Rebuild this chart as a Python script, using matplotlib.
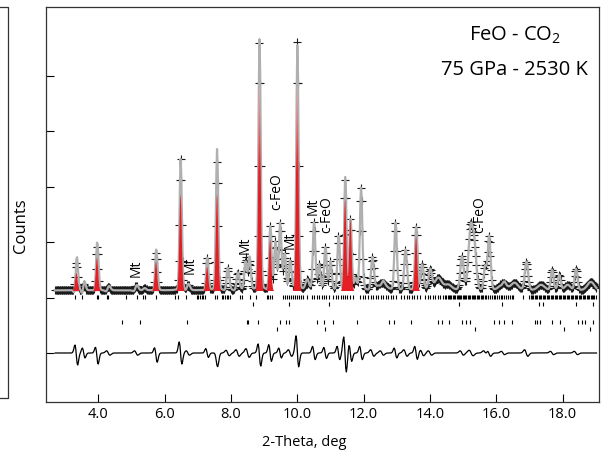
import numpy as np
import matplotlib.pyplot as plt
from matplotlib.lines import Line2D
from matplotlib.path import Path
from matplotlib.colors import LinearSegmentedColormap

plt.rcParams['font.family'] = ['Open Sans', 'DejaVu Sans']
plt.rcParams['mathtext.fontset'] = 'custom'
plt.rcParams['mathtext.rm'] = 'Open Sans'

# scan settings (2-theta, deg)
tt_start, tt_stop, tt_step = 2.70, 19.04, 0.02
background = 1130.

peak_pos = [3.34, 3.56, 3.96, 4.30, 5.14, 5.40, 5.74, 6.48, 6.70, 7.28, 7.58, 7.90, 8.20,
            8.44, 8.56, 8.86, 9.18, 9.34, 9.48, 9.62, 9.78, 10.00, 10.30, 10.50, 10.66,
            10.84, 11.00, 11.24, 11.44, 11.60, 11.76, 11.92, 12.26, 12.55, 12.96, 13.26,
            13.58, 13.76, 14.00, 14.25, 14.55, 14.96, 15.22, 15.34, 15.66, 15.78, 16.20,
            16.55, 16.90, 17.35, 17.68, 17.90, 18.15, 18.40, 18.85]
peak_height = [494, 115, 783, 60, 80, 40, 675, 2372, 97, 585, 2318, 404, 314,
               585, 513, 4466, 1144, 856, 1199, 639, 513, 4466, 188, 1217, 458,
               765, 513, 964, 1975, 1271, 200, 1848, 585, 134, 1217, 729,
               1144, 458, 368, 223, 97, 603, 1100, 700, 423, 964, 134,
               134, 513, 97, 368, 278, 97, 386, 152]
peak_fwhm = [0.08, 0.08, 0.08, 0.10, 0.10, 0.10, 0.08, 0.08, 0.10, 0.08, 0.08, 0.09, 0.10,
             0.09, 0.09, 0.08, 0.08, 0.09, 0.09, 0.09, 0.09, 0.08, 0.12, 0.09, 0.09,
             0.09, 0.09, 0.09, 0.08, 0.08, 0.09, 0.09, 0.10, 0.30, 0.09, 0.10,
             0.09, 0.10, 0.12, 0.25, 0.25, 0.12, 0.15, 0.14, 0.10, 0.10, 0.25,
             0.25, 0.12, 0.25, 0.10, 0.10, 0.20, 0.10, 0.25]

# difference curve features: position, antisymmetric amp, symmetric amp, width
res_pos = [3.34, 3.56, 3.96, 4.30, 5.14, 5.74, 6.48, 6.70, 7.28, 7.58, 7.90, 8.20, 8.50,
           8.86, 9.18, 9.48, 9.78, 10.00, 10.50, 10.84, 11.24, 11.44, 11.60, 11.92, 12.26,
           12.55, 12.96, 13.26, 13.58, 13.76, 14.00, 14.96, 15.24, 15.66, 15.78, 16.20,
           16.90, 17.68, 18.40]
res_asym = [-180, -90, -150, -40, -40, -130, -200, -40, -80, -60, -50, -60, -80,
            -200, -150, -90, -60, -280, -120, -100, -120, -320, -150, -120, -60,
            -40, -90, -60, -120, -50, -40, -40, -50, -40, -60, -30,
            -60, -30, -30]
res_sym = [-60, 0, -80, 0, 0, -60, 0, 0, 0, -230, 0, 0, 0,
           -60, 0, 0, 0, 50, 0, 0, 0, -50, 0, 0, 0,
           0, 0, 0, 0, 0, 0, 0, 0, 0, 0, 0,
           0, 0, 0]
res_w = [0.04, 0.04, 0.04, 0.05, 0.05, 0.04, 0.04, 0.05, 0.04, 0.04, 0.05, 0.05, 0.05,
         0.04, 0.04, 0.04, 0.05, 0.04, 0.04, 0.04, 0.04, 0.04, 0.04, 0.04, 0.05,
         0.05, 0.04, 0.05, 0.04, 0.05, 0.05, 0.05, 0.06, 0.05, 0.05, 0.05,
         0.05, 0.05, 0.05]

# phase shown in red: position, top (counts)
red_pos = [3.34, 3.96, 5.74, 6.48, 7.28, 7.58, 8.86, 9.18, 10.00, 11.44, 11.60, 13.58]
red_top = [1444, 1715, 1643, 2852, 1552, 2852, 4837, 2040, 4837, 2762, 2400, 2094]
red_base = 1119.

# reflection markers (four phases)
hkl_1a = [3.30, 3.50, 3.95, 4.00, 4.25, 4.30, 4.84, 5.18, 5.36, 5.41, 5.74, 6.31, 6.41, 6.63,
          6.97, 7.02, 7.07, 7.12, 7.17, 7.22, 7.52, 7.57, 7.72, 7.77, 7.82, 7.87, 7.92, 7.97,
          8.27, 8.32, 8.57, 8.75, 9.08, 9.13, 9.18, 9.23, 9.58, 9.64, 9.70, 9.76, 9.82, 9.88,
          9.94, 10.00, 10.06, 10.12, 10.18, 10.28, 10.43, 10.50, 10.58, 10.66, 10.73, 10.80,
          10.88, 10.96, 11.09, 11.17, 11.24, 11.31, 11.37, 11.44, 11.49, 11.59, 11.69, 11.89,
          11.97, 12.04, 12.14, 12.21, 12.29, 12.37, 12.44, 12.51, 12.59, 12.67, 12.74, 12.81,
          12.89, 12.97, 13.14, 13.21, 13.30, 13.38, 13.46, 13.53, 13.60, 13.70, 13.85, 13.93,
          14.00, 14.08, 14.15, 14.23, 14.31, 14.38, 14.45, 14.49, 14.53, 14.57, 14.60, 14.64,
          14.68, 14.72, 14.76, 14.80, 14.83, 14.87, 14.91, 14.95, 14.99, 15.03, 15.06, 15.10,
          15.14, 15.18, 15.22, 15.26, 15.29, 15.33, 15.37, 15.41, 15.45, 15.49, 15.53, 15.57,
          15.61, 15.65, 15.69, 15.76, 15.81, 15.86, 15.92, 15.97, 16.02, 16.08, 16.13, 16.18,
          16.24, 16.30, 16.35, 16.41, 16.46, 16.51, 16.81, 17.00, 17.04, 17.08, 17.12, 17.16,
          17.20, 17.24, 17.28, 17.32, 17.36, 17.40, 17.44, 17.48, 17.52, 17.56, 17.60, 17.64,
          17.68, 17.72, 17.76, 17.80, 17.84, 17.88, 17.92, 17.96, 18.00, 18.04, 18.08, 18.12,
          18.16, 18.20, 18.24, 18.28, 18.32, 18.36, 18.40, 18.44, 18.48, 18.52, 18.56, 18.60,
          18.64, 18.68, 18.72, 18.76, 18.80, 18.84, 18.88, 18.92, 18.96, 19.00]
hkl_1b = [8.67, 9.74, 10.97, 14.88, 16.18, 17.29, 17.42, 18.40, 18.92]
hkl_2a = [4.70, 5.26, 6.66, 8.47, 8.52, 8.80, 9.47, 9.67, 9.74, 10.59, 10.80, 11.08, 11.81,
          12.75, 12.93, 13.43, 14.23, 14.35, 14.58, 14.98, 15.10, 15.21, 15.93, 16.08, 16.23,
          16.46, 17.17, 17.24, 17.32, 17.67, 17.92, 18.47, 18.57, 18.67, 18.92]
hkl_2b = [9.38, 10.82, 15.36, 18.04, 18.82]

# phase labels: text, position, height (counts)
lab_text = ['Mt', 'Mt', 'Mt', 'c-FeO', 'Mt', 'Mt', 'c-FeO', 'c-FeO']
lab_x = [5.14, 6.78, 8.43, 9.38, 9.78, 10.48, 10.89, 15.51]
lab_y = [1534, 1590, 1950, 2920, 2040, 2640, 2500, 2490]


def pv(x, pos, h, w):
    d = (x - pos) / w
    return h * (0.9 * np.exp(-4 * np.log(2) * d ** 2) + 0.1 / (1 + 4 * d ** 2))


tt = np.arange(tt_start, tt_stop, tt_step)
obs = np.full_like(tt, background)
for p, h, w in zip(peak_pos, peak_height, peak_fwhm):
    obs += pv(tt, p, h, w)

diff = np.zeros_like(tt)
for p, a, s, w in zip(res_pos, res_asym, res_sym, res_w):
    d = (tt - p) / w
    diff += a * d * np.exp(0.5 - d ** 2 / 2) + s * np.exp(-d ** 2 / 2)
calc = obs - diff

tt_f = np.arange(tt_start, tt_stop, 0.004)
red = np.zeros_like(tt_f)
for p, t in zip(red_pos, red_top):
    red += (t - red_base) * np.exp(-4 * np.log(2) * ((tt_f - p) / 0.085) ** 2)

fig = plt.figure(figsize=(6.06, 4.57), dpi=100)
ax = fig.add_axes([0.0754, 0.121, 0.9130, 0.8637])

ax.plot(tt, obs, ls='none', marker='+', ms=5.5, mew=0.8, color='#1a1a1a', zorder=2)
ax.plot(tt, calc, color='#b0b0b0', lw=1.6, zorder=3)

# red phase peaks, fading towards the top of the tallest ones
red_fill = ax.fill_between(tt_f, red_base, red_base + red, where=red > 4,
                           facecolor='none', lw=0)
clip = Path.make_compound_path(*red_fill.get_paths())
fade = LinearSegmentedColormap.from_list('fade', [(0, '#e61e25'), (0.55, '#e61e25'),
                                                  (1, '#ecc4c4')])
im = ax.imshow(np.linspace(0, 1, 256).reshape(-1, 1), extent=[tt_start, tt_stop, red_base, 5000],
               origin='lower', aspect='auto', cmap=fade, zorder=4)
im.set_clip_path(clip, transform=ax.transData)

ax.plot(tt, diff, color='black', lw=0.9, zorder=3)

ax.vlines(hkl_1a, 975, 1047, color='black', lw=0.8)
ax.vlines(hkl_1b, 848, 926, color='black', lw=0.8)
ax.vlines(hkl_2a, 518, 596, color='black', lw=0.8)
ax.vlines(hkl_2b, 403, 475, color='black', lw=0.8)

for t, x, y in zip(lab_text, lab_x, lab_y):
    ax.text(x, y, t, rotation=90, fontsize=10, ha='center', va='center', zorder=5)

ax.text(0.848, 0.929, 'FeO - CO$_2$', transform=ax.transAxes, fontsize=14.5,
        ha='center', va='center')
ax.text(0.848, 0.840, '75 GPa - 2530 K', transform=ax.transAxes, fontsize=14.5,
        ha='center', va='center')

ax.set_xlim(2.414, 19.095)
ax.set_ylim(-879, 6245)
ax.set_xticks([4, 6, 8, 10, 12, 14, 16, 18])
ax.set_xticklabels(['4.0', '6.0', '8.0', '10.0', '12.0', '14.0', '16.0', '18.0'])
ax.set_yticks([0, 1000, 2000, 3000, 4000, 5000])
ax.set_yticklabels([])
ax.tick_params(direction='in', length=6, width=0.8, labelsize=10.5, pad=4)
for s in ax.spines.values():
    s.set_linewidth(0.9)
    s.set_color('#333333')

ax.set_xlabel('2-Theta, deg', fontsize=10.5)
ax.xaxis.set_label_coords(0.467, -0.084)
ax.set_ylabel('Counts', fontsize=12)
ax.yaxis.set_label_coords(-0.030, 0.445)

# edge of the neighbouring panel
fig.add_artist(Line2D([0, 7.5 / 606, 7.5 / 606, 0],
                      [1 - 7.3 / 457, 1 - 7.3 / 457, 1 - 397.7 / 457, 1 - 397.7 / 457],
                      color='#333333', lw=0.9))

fig.savefig('out.png', dpi=100)
